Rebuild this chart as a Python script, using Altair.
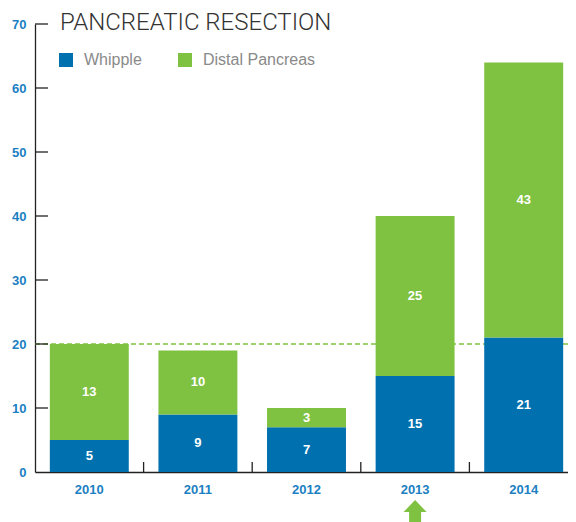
import altair as alt
import pandas as pd

years = ["2010", "2011", "2012", "2013", "2014"]
whipple = [5, 9, 7, 15, 21]
distal = [15, 10, 3, 25, 43]
distal_labels = ["13", "10", "3", "25", "43"]
whipple_labels = ["5", "9", "7", "15", "21"]
series = ["Whipple", "Distal Pancreas"]
y_ticks = [10, 20, 30, 40, 50, 60, 70]
y_axis_values = [0, 10, 20, 30, 40, 50, 60, 70]
reference_line = [20]
highlight_year = ["2013"]
chart_title = "PANCREATIC RESECTION"

BLUE = "#0071ae"
GREEN = "#7fc242"
LABEL_BLUE = "#1c7fc2"
W, H = 533, 448
XR = 543

rows = []
for i, yr in enumerate(years):
    rows.append({"year": yr, "series": "Whipple", "value": whipple[i], "ord": 0,
                 "label": whipple_labels[i], "mid": whipple[i] / 2})
    rows.append({"year": yr, "series": "Distal Pancreas", "value": distal[i], "ord": 1,
                 "label": distal_labels[i], "mid": whipple[i] + distal[i] / 2})
df = pd.DataFrame(rows)

xscale = alt.Scale(domain=years, paddingInner=0, paddingOuter=0, range=[0, XR])
yscale = alt.Scale(domain=[0, 70], nice=False)

x_axis = alt.Axis(title=None, labelAngle=0, ticks=False, grid=False,
                  domainColor="#222222", domainWidth=1.3,
                  labelColor=LABEL_BLUE, labelFont="Liberation Sans",
                  labelFontSize=13, labelFontWeight="bold", labelPadding=11)
y_axis = alt.Axis(title=None, values=y_axis_values, ticks=False, grid=False,
                  domainColor="#222222", domainWidth=1.3,
                  labelColor=LABEL_BLUE, labelFont="Liberation Sans",
                  labelFontSize=13, labelFontWeight="bold", labelPadding=9)


def X(field, **kw):
    return alt.X(field, scale=xscale, sort=years, axis=x_axis, **kw)


def Y(field, **kw):
    return alt.Y(field, scale=yscale, axis=y_axis, **kw)


ref_df = pd.DataFrame({"ref": reference_line})
ref = alt.Chart(ref_df).mark_rule(color=GREEN, strokeWidth=1.5, strokeDash=[5, 3]).encode(
    y=Y("ref:Q"),
)

bars = alt.Chart(df).mark_bar(width=alt.RelativeBandSize(0.727)).encode(
    x=X("year:N"),
    y=Y("value:Q", stack="zero"),
    color=alt.Color("series:N", scale=alt.Scale(domain=series, range=[BLUE, GREEN]),
                    legend=alt.Legend(title=None)),
    order=alt.Order("ord:Q"),
)

labels = alt.Chart(df).mark_text(color="white", font="Liberation Sans", fontSize=13,
                                 fontWeight="bold", baseline="middle").encode(
    x=X("year:N"),
    y=Y("mid:Q"),
    text="label:N",
)

ticks_df = pd.DataFrame({"tick": y_ticks})
yticks = alt.Chart(ticks_df).mark_rule(color="#222222", strokeWidth=1.3).encode(
    y=Y("tick:Q"),
    x=alt.value(0), x2=alt.value(13),
)

bound_df = pd.DataFrame({"year": years[1:]})
xticks = alt.Chart(bound_df).mark_rule(color="#222222", strokeWidth=1.3).encode(
    x=X("year:N", bandPosition=0),
    y=alt.value(H - 10), y2=alt.value(H),
)

arrow_path = "M0,-1 L0.96,0 L0.5,0 L0.5,1 L-0.5,1 L-0.5,0 L-0.96,0 Z"
arrow_df = pd.DataFrame({"year": highlight_year})
arrow = alt.Chart(arrow_df).mark_point(shape=arrow_path, filled=True, size=576,
                                       color=GREEN, opacity=1, strokeWidth=0).encode(
    x=X("year:N"),
    y=alt.value(H + 40),
)

title_df = pd.DataFrame({"t": [chart_title]})
title = alt.Chart(title_df).mark_text(font="Roboto", fontWeight=300, fontSize=24,
                                      color="#333333", align="left",
                                      baseline="alphabetic").encode(
    text="t:N", x=alt.value(25), y=alt.value(6),
)

chart = alt.layer(ref, bars, labels, yticks, xticks, arrow, title).properties(
    width=W, height=H,
    autosize=alt.AutoSizeParams(type="none"),
    padding={"left": 27, "top": 16, "right": 0, "bottom": 50},
).configure_view(stroke=None).configure_legend(
    orient="none", legendX=23, legendY=28, direction="horizontal",
    symbolType="square", symbolSize=196, symbolStrokeWidth=0,
    labelFont="Liberation Sans", labelFontSize=16, labelColor="#8a8a8a",
    columnPadding=35, labelOffset=10,
)

chart.save("out.html", embed_options={"renderer": "svg", "actions": False})
